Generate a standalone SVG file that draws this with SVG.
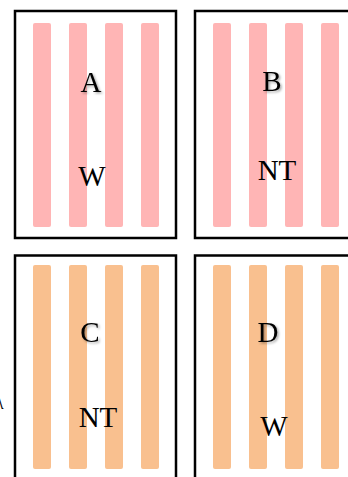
<svg xmlns="http://www.w3.org/2000/svg" width="348" height="477" viewBox="0 0 348 477">
<defs>
<style>
.box{fill:#fff;stroke:#000;stroke-width:2.5}
.p{fill:#FFB5B5}
.o{fill:#F9C08F}
.t{font-family:"Liberation Serif",serif;font-size:29px;fill:#000;text-anchor:middle}
.s{filter:url(#sh)}
</style>
<filter id="sh" x="-20%" y="-20%" width="150%" height="150%">
<feDropShadow dx="1.5" dy="1.5" stdDeviation="1" flood-color="#000" flood-opacity="0.35"/>
</filter>
</defs>
<rect width="348" height="477" fill="#fff"/>
<g id="nodeA">
<rect class="box" x="15" y="11" width="161" height="227"/>
<rect class="p" x="33" y="23" width="18" height="204" rx="2"/>
<rect class="p" x="69" y="23" width="18" height="204" rx="2"/>
<rect class="p" x="105" y="23" width="18" height="204" rx="2"/>
<rect class="p" x="141" y="23" width="18" height="204" rx="2"/>
<text class="t s" x="91" y="92">A</text>
<text class="t" x="92" y="186">W</text>
</g>
<g id="nodeB">
<rect class="box" x="195" y="11" width="161" height="227"/>
<rect class="p" x="213" y="23" width="18" height="204" rx="2"/>
<rect class="p" x="249" y="23" width="18" height="204" rx="2"/>
<rect class="p" x="285" y="23" width="18" height="204" rx="2"/>
<rect class="p" x="321" y="23" width="18" height="204" rx="2"/>
<text class="t s" x="272" y="91">B</text>
<text class="t" x="277" y="180">NT</text>
</g>
<g id="nodeC">
<rect class="box" x="15" y="255.5" width="161" height="240"/>
<rect class="o" x="33" y="265" width="18" height="204" rx="2"/>
<rect class="o" x="69" y="265" width="18" height="204" rx="2"/>
<rect class="o" x="105" y="265" width="18" height="204" rx="2"/>
<rect class="o" x="141" y="265" width="18" height="204" rx="2"/>
<text class="t s" x="90" y="342">C</text>
<text class="t" x="98" y="427">NT</text>
</g>
<g id="nodeD">
<rect class="box" x="195" y="255.5" width="161" height="240"/>
<rect class="o" x="213" y="265" width="18" height="204" rx="2"/>
<rect class="o" x="249" y="265" width="18" height="204" rx="2"/>
<rect class="o" x="285" y="265" width="18" height="204" rx="2"/>
<rect class="o" x="321" y="265" width="18" height="204" rx="2"/>
<text class="t s" x="268" y="342">D</text>
<text class="t" x="274" y="436">W</text>
</g>
<g id="connectors"></g>
<text x="-6" y="409" font-family="Liberation Serif,serif" font-size="20" fill="#000">λ</text>
</svg>
